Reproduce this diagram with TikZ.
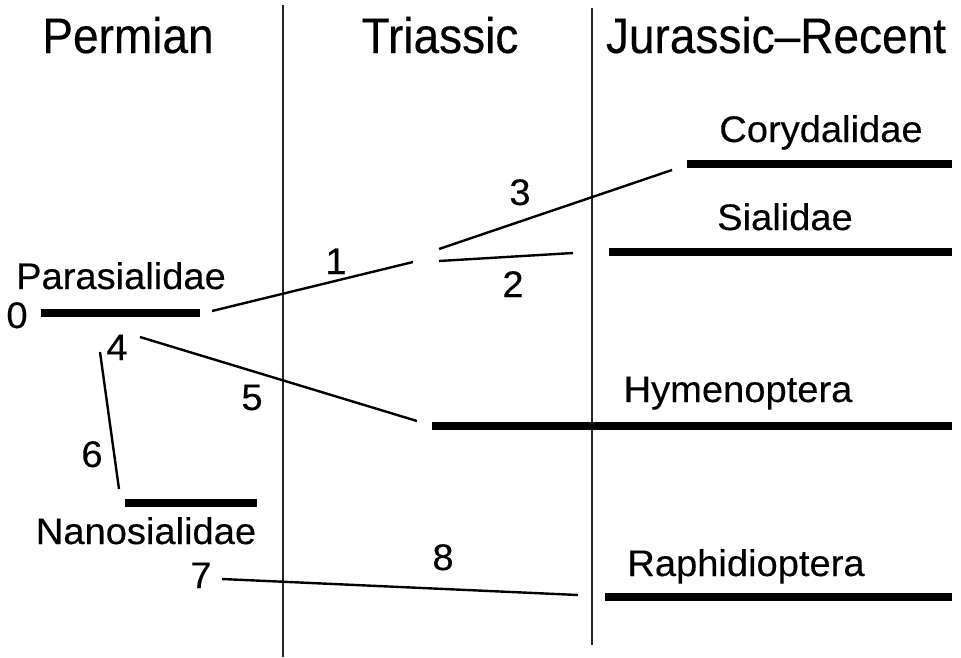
\documentclass[tikz,border=0pt]{standalone}
\usepackage{fontspec}
\setmainfont{Liberation Sans}
\newfontfamily\hdrfont[FakeStretch=0.92,FakeBold=0.3]{Liberation Sans}
\newfontfamily\lblfont[FakeStretch=1.03,FakeBold=0.3]{Liberation Sans}
\begin{document}
\begin{tikzpicture}[x=1pt,y=-1pt,
  hdr/.style={font=\hdrfont\fontsize{50}{50}\selectfont, anchor=base, inner sep=0pt},
  lbl/.style={font=\lblfont\fontsize{37}{37}\selectfont, anchor=base, inner sep=0pt},
  period/.style={line width=1.5pt, black!85},
  bar/.style={line width=8pt},
  link/.style={line width=2.4pt}]
\useasboundingbox (0,0) rectangle (961,657);
% period boundaries
\coordinate (v1t) at (283,5);  \coordinate (v1b) at (283,657);
\coordinate (v2t) at (592,8);  \coordinate (v2b) at (592,645);
\draw[period] (v1t) -- (v1b);
\draw[period] (v2t) -- (v2b);
% headers
\node[hdr] (hperm) at (128,53) {Permian};
\node[hdr] (htri) at (440,53) {Triassic};
\node[hdr] (hjur) at (776,53) {Jurassic–Recent};
% bars
\coordinate (parL) at (41,313);  \coordinate (parR) at (200,313);
\coordinate (nanL) at (125,503); \coordinate (nanR) at (257,503);
\coordinate (corL) at (687,164); \coordinate (corR) at (952,164);
\coordinate (siaL) at (609,252); \coordinate (siaR) at (952,252);
\coordinate (hymL) at (432,426); \coordinate (hymR) at (952,426);
\coordinate (rapL) at (605,597); \coordinate (rapR) at (952,597);
\foreach \a/\b in {parL/parR,nanL/nanR,corL/corR,siaL/siaR,hymL/hymR,rapL/rapR}
  \draw[bar] (\a) -- (\b);
% taxon labels
\node[lbl] (tpar) at (121,289) {Parasialidae};
\node[lbl] (tnan) at (146,544) {Nanosialidae};
\node[lbl] (tcor) at (821,142) {Corydalidae};
\node[lbl] (tsia) at (785,230) {Sialidae};
\node[lbl] (thym) at (738,402) {Hymenoptera};
\node[lbl] (trap) at (746,576) {Raphidioptera};
% numbers
\node[lbl] (n0) at (17,328) {0};
\node[lbl] (n1) at (336,274) {1};
\node[lbl] (n2) at (513,297) {2};
\node[lbl] (n3) at (520,205) {3};
\node[lbl] (n4) at (117,360) {4};
\node[lbl] (n5) at (252,410) {5};
\node[lbl] (n6) at (92,467) {6};
\node[lbl] (n7) at (201,588) {7};
\node[lbl] (n8) at (443,570) {8};
% links
\coordinate (l1a) at (212,311); \coordinate (l1b) at (413,262);
\coordinate (l3a) at (439,249); \coordinate (l3b) at (672,170);
\coordinate (l2a) at (439,261); \coordinate (l2b) at (573,253);
\coordinate (l5a) at (140,337); \coordinate (l5b) at (417,421);
\coordinate (l6a) at (100,352); \coordinate (l6b) at (119,489);
\coordinate (l8a) at (222,579); \coordinate (l8b) at (578,595);
\draw[link] (l1a) -- (l1b);
\draw[link] (l3a) -- (l3b);
\draw[link] (l2a) -- (l2b);
\draw[link] (l5a) -- (l5b);
\draw[link] (l6a) -- (l6b);
\draw[link] (l8a) -- (l8b);
\end{tikzpicture}
\end{document}
